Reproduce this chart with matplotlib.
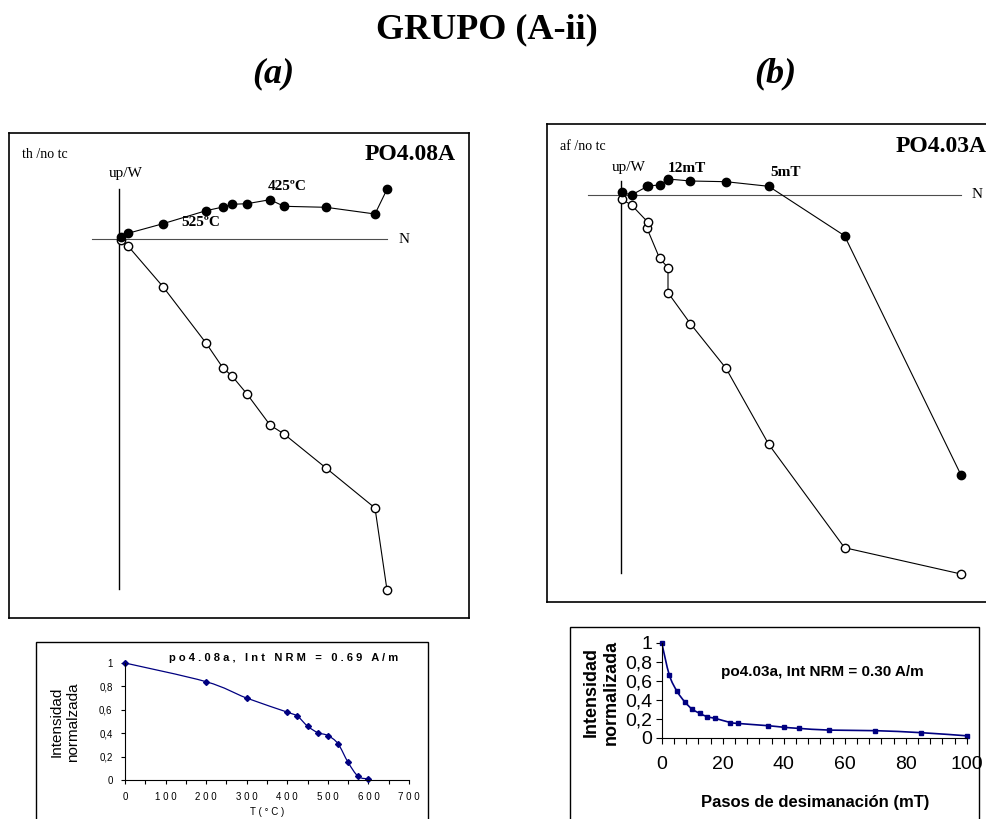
import numpy as np
import matplotlib
matplotlib.use("Agg")
import matplotlib.pyplot as plt
from matplotlib.patches import Rectangle, PathPatch
from matplotlib.path import Path
from matplotlib.ticker import MultipleLocator

W, H = 986, 819
SERIF = "Liberation Serif"
SANS = "Liberation Sans"
NAVY = "#000080"

# --- Zijderveld (a) PO4.08A, thermal, NRM first
za_north = [26.8, 25.6, 20.7, 16.5, 15.1, 12.8, 11.3, 10.4, 8.7, 4.4, 0.9, 0.2]
za_upw = [4.97, 2.50, 3.17, 3.27, 3.93, 3.53, 3.47, 3.20, 2.83, 1.53, 0.57, 0.17]
za_down = [-35.1, -26.9, -22.9, -19.5, -18.6, -15.5, -13.7, -12.9, -10.4, -4.77, -0.70, -0.10]

# --- Zijderveld (b) PO4.03A, AF, NRM first
zb_north = [34.0, 22.35, 14.77, 10.5, 6.94, 4.7, 4.7, 3.86, 2.6, 2.7, 1.05, 0.07]
zb_upw = [-28.0, -4.07, 0.87, 1.33, 1.4, 1.6, 1.55, 1.0, 0.9, 0.9, 0.0, 0.27]
zb_down = [-37.9, -35.27, -24.93, -17.33, -12.87, -9.77, -7.27, -6.33, -3.33, -2.73, -1.0, -0.43]

# --- normalised intensity curves
t_steps = [0, 200, 300, 400, 425, 450, 475, 500, 525, 550, 575, 600]
int_a = [1.0, 0.84, 0.70, 0.58, 0.545, 0.46, 0.405, 0.38, 0.31, 0.15, 0.03, 0.01]
af_steps = [0, 2.5, 5, 7.5, 10, 12.5, 15, 17.5, 22.5, 25, 35, 40, 45, 55, 70, 85, 100]
int_b = [1.0, 0.66, 0.49, 0.38, 0.30, 0.256, 0.22, 0.204, 0.16, 0.15, 0.126, 0.11,
         0.098, 0.08, 0.074, 0.053, 0.02]

t_ticks = [0, 100, 200, 300, 400, 500, 600, 700]
af_ticks = [0, 20, 40, 60, 80, 100]
int_ticks = [0, 0.2, 0.4, 0.6, 0.8, 1]
int_labels = ["0", "0,2", "0,4", "0,6", "0,8", "1"]

fig = plt.figure(figsize=(W / 100, H / 100), dpi=100)


def px_rect(x0, y0, x1, y1):
    return [x0 / W, 1 - y1 / H, (x1 - x0) / W, (y1 - y0) / H]


def ftext(x, y, s, **kw):
    fig.text(x / W, 1 - y / H, s, **kw)


def frame(x0, y0, x1, y1, lw=1.0):
    fig.add_artist(Rectangle((x0 / W, 1 - y1 / H), (x1 - x0) / W, (y1 - y0) / H,
                             transform=fig.transFigure, fill=False, lw=lw, ec="black"))


def smooth_line(ax, x, y, **kw):
    # excel-like smoothed line (bezier through the points)
    p = np.column_stack([x, y]).astype(float)
    pad = np.vstack([p[0], p, p[-1]])
    verts = [p[0]]
    codes = [Path.MOVETO]
    for i in range(len(p) - 1):
        c1 = p[i] + (pad[i + 2] - pad[i]) / 6
        c2 = p[i + 1] - (pad[i + 3] - pad[i + 1]) / 6
        verts += [c1, c2, p[i + 1]]
        codes += [Path.CURVE4] * 3
    ax.add_patch(PathPatch(Path(verts, codes), fill=False, **kw))


def zijderveld(box, origin, north, upw, down, vline, hline):
    x0, y0, x1, y1 = box
    ox, oy = origin
    ax = fig.add_axes(px_rect(*box))
    ax.set_xlim((x0 - ox) / 10, (x1 - ox) / 10)
    ax.set_ylim((oy - y1) / 10, (oy - y0) / 10)
    ax.set_xticks([])
    ax.set_yticks([])
    for s in ax.spines.values():
        s.set_linewidth(1.2)
    ax.plot([0, 0], vline, color="black", lw=1.0)
    ax.plot(hline, [0, 0], color="0.3", lw=0.8)
    ax.plot(north, down, "-o", color="black", mfc="white", mec="black", ms=6, lw=0.8)
    ax.plot(north, upw, "-o", color="black", mfc="black", mec="black", ms=6, lw=0.8)
    return ax


# titles
ftext(487, 30, "GRUPO (A-ii)", family=SERIF, weight="bold", fontsize=26, ha="center", va="center")
ftext(273, 74, "(a)", family=SERIF, weight="bold", style="italic", fontsize=26, ha="center", va="center")
ftext(775, 74, "(b)", family=SERIF, weight="bold", style="italic", fontsize=26, ha="center", va="center")

# panel (a) zijderveld
zijderveld((9, 133, 469, 618), (119, 239), za_north, za_upw, za_down, [-35.0, 5.0], [-2.7, 26.8])
ftext(22, 155, "th /no tc", family=SERIF, fontsize=10, ha="left", va="center")
ftext(456, 155, "PO4.08A", family=SERIF, weight="bold", fontsize=17, ha="right", va="center")
ftext(126, 173, "up/W", family=SERIF, fontsize=11, ha="center", va="center")
ftext(404, 239, "N", family=SERIF, fontsize=11, ha="center", va="center")
ftext(287, 187, "425ºC", family=SERIF, weight="bold", fontsize=11, ha="center", va="center")
ftext(201, 223, "525ºC", family=SERIF, weight="bold", fontsize=11, ha="center", va="center")

# panel (b) zijderveld
axb = zijderveld((547, 124, 986, 602), (621, 195), zb_north, zb_upw, zb_down, [-37.8, 1.4], [-3.3, 34.0])
axb.spines["right"].set_visible(False)
ftext(560, 147, "af /no tc", family=SERIF, fontsize=10, ha="left", va="center")
ftext(987, 147, "PO4.03A", family=SERIF, weight="bold", fontsize=17, ha="right", va="center")
ftext(629, 168, "up/W", family=SERIF, fontsize=11, ha="center", va="center")
ftext(977, 195, "N", family=SERIF, fontsize=11, ha="center", va="center")
ftext(687, 168, "12mT", family=SERIF, weight="bold", fontsize=11, ha="center", va="center")
ftext(786, 172, "5mT", family=SERIF, weight="bold", fontsize=11, ha="center", va="center")

# intensity (a)
frame(36, 642, 428, 840, lw=1.0)
ax = fig.add_axes(px_rect(125, 663, 409, 780))
ax.set_xlim(0, 700)
ax.set_ylim(0, 1)
smooth_line(ax, t_steps, int_a, color=NAVY, lw=0.9)
ax.plot(t_steps, int_a, "D", color=NAVY, ms=3, clip_on=False)
ax.spines[["top", "right"]].set_visible(False)
ax.set_xticks(t_ticks, labels=[" ".join(str(v)) for v in t_ticks])
ax.xaxis.set_minor_locator(MultipleLocator(50))
ax.set_yticks(int_ticks, labels=int_labels)
ax.tick_params(which="both", direction="out", length=3, width=0.8, labelsize=7)
ax.tick_params(axis="x", pad=6)
ax.tick_params(axis="y", pad=6)
for lab in ax.get_xticklabels() + ax.get_yticklabels():
    lab.set_family(SANS)
ftext(267, 812, " ".join("T(°C)"), family=SANS, fontsize=7, ha="center", va="center")
ftext(65, 722, "Intensidad\nnormalzada", family=SANS, fontsize=11, rotation=90,
      ha="center", va="center", linespacing=1.25)
ftext(169, 658, " ".join("po4.08a, Int NRM = 0.69 A/m"), family=SANS, weight="bold",
      fontsize=8, ha="left", va="center")

# intensity (b)
frame(570, 627, 979, 840, lw=1.0)
ax = fig.add_axes(px_rect(661.7, 642.7, 966.7, 737.7))
ax.set_xlim(0, 100)
ax.set_ylim(0, 1)
smooth_line(ax, af_steps, int_b, color=NAVY, lw=1.2)
ax.plot(af_steps, int_b, "s", color=NAVY, ms=3.5, clip_on=False)
ax.spines[["top", "right"]].set_visible(False)
ax.set_xticks(af_ticks)
ax.xaxis.set_minor_locator(MultipleLocator(4))
ax.set_yticks(int_ticks, labels=int_labels)
ax.tick_params(which="both", direction="out", length=4, width=0.8, labelsize=14)
ax.tick_params(axis="x", pad=9)
ax.tick_params(axis="y", pad=3)
for lab in ax.get_xticklabels() + ax.get_yticklabels():
    lab.set_family(SANS)
ftext(815, 802, "Pasos de desimanación (mT)", family=SANS, weight="bold", fontsize=12,
      ha="center", va="center")
ftext(601, 692, "Intensidad\nnormalizada", family=SANS, weight="bold", fontsize=13, rotation=90,
      ha="center", va="center", linespacing=1.2)
ftext(822, 672, "po4.03a, Int NRM = 0.30 A/m", family=SANS, weight="bold", fontsize=11,
      ha="center", va="center")

fig.savefig("out.png", dpi=100)
